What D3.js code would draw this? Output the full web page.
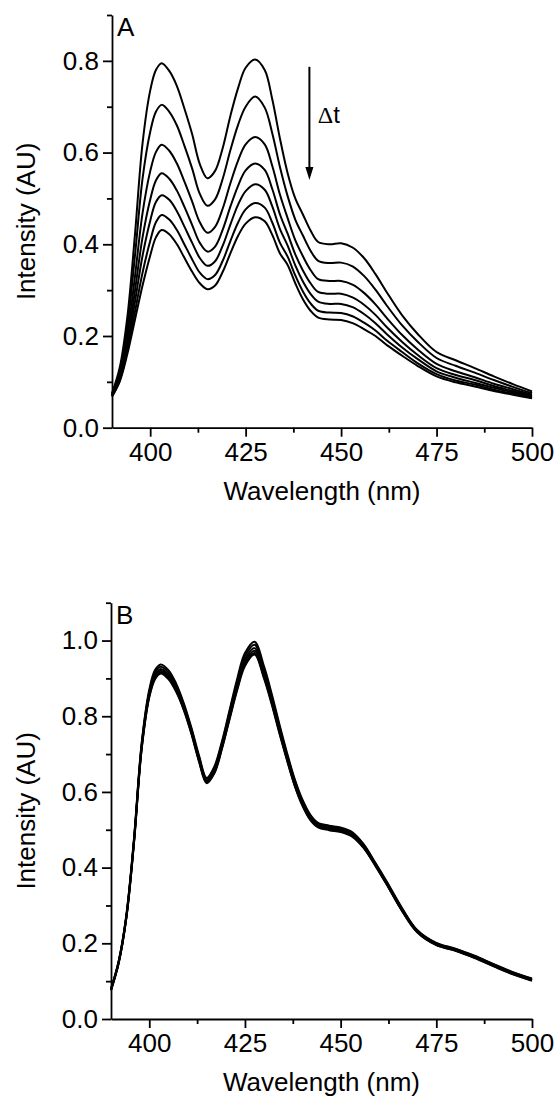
<!DOCTYPE html>
<html>
<head>
<meta charset="utf-8">
<script src="https://cdn.jsdelivr.net/npm/d3@7/dist/d3.min.js"></script>
<style>
body { margin: 0; background: #fff; }
svg text { font-family: "Liberation Sans", Arial, sans-serif; fill: #000; }
</style>
</head>
<body>
<div id="chart"></div>
<script>
// wavelengths (nm) shared by all spectra
var wavelength = [390, 392, 394, 396, 398, 400, 401.5, 403, 405, 407, 409, 411, 413, 415, 417, 419, 421, 423, 425, 427.5,
    430, 432, 434, 436, 438, 440, 442, 444, 447, 450, 453, 456, 459, 462, 466, 470, 475, 480, 485, 490, 495, 500];

// panel A: intensity decays with time (first scan on top)
var specA1 = [.075, .13, .24, .42, .62, .735, .78, .795, .778, .745, .695, .64, .575, .544, .56, .61, .68, .74, .785, .803,
    .78, .715, .63, .555, .50, .465, .43, .405, .40, .402, .393, .37, .335, .295, .245, .205, .165, .147, .13, .112, .095, .079];
var specA2 = [.073, .122, .22, .374, .543, .645, .689, .704, .689, .659, .614, .565, .51, .484, .498, .543, .605, .66, .70, .722,
    .698, .641, .568, .505, .454, .419, .386, .364, .359, .36, .352, .331, .301, .266, .223, .188, .152, .135, .12, .104, .089, .075];
var specA3 = [.072, .115, .201, .329, .468, .559, .601, .617, .604, .576, .536, .493, .448, .425, .438, .478, .533, .582, .618, .634,
    .618, .57, .508, .457, .409, .374, .344, .324, .32, .32, .312, .294, .269, .239, .202, .171, .139, .123, .11, .096, .084, .072];
var specA4 = [.070, .11, .187, .298, .415, .497, .539, .555, .543, .517, .481, .442, .403, .384, .395, .432, .482, .527, .561, .576,
    .562, .52, .465, .423, .378, .343, .315, .296, .292, .292, .284, .268, .246, .219, .187, .159, .13, .115, .104, .091, .08, .069];
var specA5 = [.070, .106, .177, .274, .375, .451, .492, .507, .497, .472, .438, .403, .37, .353, .363, .397, .443, .486, .516, .531,
    .519, .482, .433, .397, .354, .319, .292, .275, .27, .27, .263, .248, .228, .204, .175, .15, .123, .109, .098, .087, .077, .067];
var specA6 = [.068, .103, .167, .252, .338, .407, .448, .464, .454, .431, .399, .367, .338, .324, .333, .364, .407, .447, .476, .49,
    .48, .447, .403, .373, .332, .297, .271, .255, .251, .25, .243, .229, .212, .19, .165, .141, .117, .103, .094, .083, .074, .065];
var specA7 = [.068, .10, .16, .235, .31, .375, .415, .431, .422, .40, .37, .34, .315, .302, .31, .34, .38, .418, .445, .459,
    .45, .42, .38, .355, .315, .28, .255, .24, .236, .235, .228, .215, .20, .18, .157, .135, .112, .099, .09, .08, .072, .064];

// panel B: repeated scans, nearly unchanged
var specB1 = [.080, .153, .274, .476, .728, .870, .922, .937, .922, .887, .835, .770, .696, .637, .667, .734, .817, .900, .967, .997,
    .931, .859, .779, .703, .634, .580, .541, .519, .511, .506, .494, .462, .414, .364, .294, .235, .201, .186, .167, .145, .124, .107];
var specB2 = [.079, .152, .272, .473, .724, .865, .916, .931, .916, .882, .831, .766, .692, .634, .663, .729, .811, .893, .959, .989,
    .923, .852, .773, .698, .630, .576, .538, .516, .508, .503, .491, .460, .412, .362, .292, .234, .200, .185, .166, .144, .123, .106];
var specB3 = [.078, .15, .27, .47, .72, .86, .91, .925, .91, .876, .826, .762, .688, .630, .658, .724, .805, .885, .95, .98,
    .915, .845, .767, .693, .625, .572, .534, .513, .505, .50, .488, .457, .41, .36, .29, .232, .198, .183, .164, .142, .121, .104];
var specB4 = [.077, .149, .268, .468, .717, .856, .905, .920, .905, .872, .822, .759, .685, .627, .654, .720, .800, .879, .943, .973,
    .909, .839, .762, .689, .621, .569, .531, .511, .503, .498, .486, .455, .408, .358, .288, .231, .197, .182, .163, .141, .120, .103];
var specB5 = [.076, .148, .267, .466, .714, .853, .901, .916, .901, .868, .819, .756, .682, .625, .651, .717, .796, .874, .937, .967,
    .903, .835, .758, .686, .618, .566, .529, .509, .501, .496, .484, .453, .407, .357, .287, .230, .196, .181, .162, .140, .119, .102];
var specB6 = [.076, .147, .266, .464, .712, .850, .898, .913, .898, .865, .817, .754, .680, .623, .649, .714, .793, .870, .933, .963,
    .899, .831, .755, .683, .616, .564, .527, .507, .499, .494, .482, .452, .406, .356, .286, .229, .195, .180, .161, .139, .118, .101];

var xTicks = [400, 425, 450, 475, 500];
var xMinor = [412.5, 437.5, 462.5, 487.5];
var yTicksA = [0, 0.2, 0.4, 0.6, 0.8];
var yMinorA = [0.1, 0.3, 0.5, 0.7, 0.9];
var yTicksB = [0, 0.2, 0.4, 0.6, 0.8, 1.0];
var yMinorB = [0.1, 0.3, 0.5, 0.7, 0.9, 1.1];

const svg = d3.select("#chart")
    .append("svg")
    .attr("width", 557)
    .attr("height", 1101);

function drawPanel(opts) {
    const x = d3.scaleLinear().domain([390, 500]).range([opts.left, opts.right]);
    const y = d3.scaleLinear().domain([0, opts.yMax]).range([opts.bottom, opts.top]);

    const g = svg.append("g");

    // minor ticks first
    g.append("g")
        .attr("transform", `translate(0,${opts.bottom})`)
        .call(d3.axisBottom(x).tickValues(xMinor).tickSize(5).tickSizeOuter(0).tickFormat(""))
        .call(a => a.select(".domain").remove());
    g.append("g")
        .attr("transform", `translate(${opts.left},0)`)
        .call(d3.axisLeft(y).tickValues(opts.yMinor).tickSize(5).tickSizeOuter(0).tickFormat(""))
        .call(a => a.select(".domain").remove());

    g.append("g")
        .attr("transform", `translate(0,${opts.bottom})`)
        .call(d3.axisBottom(x).tickValues(xTicks).tickSize(9).tickSizeOuter(0).tickPadding(6));
    g.append("g")
        .attr("transform", `translate(${opts.left},0)`)
        .call(d3.axisLeft(y).tickValues(opts.yTicks).tickSize(9).tickSizeOuter(0).tickPadding(4).tickFormat(d3.format(".1f")));

    g.selectAll(".tick line, .domain").attr("stroke", "#000").attr("stroke-width", 1.8);
    g.selectAll(".tick text").attr("font-size", 26).attr("fill", "#000");

    const line = d3.line()
        .x((d, i) => x(wavelength[i]))
        .y(d => y(d))
        .curve(d3.curveCatmullRom.alpha(0.5));

    g.append("g")
        .selectAll("path")
        .data(opts.series)
        .join("path")
        .attr("d", line)
        .attr("fill", "none")
        .attr("stroke", "#000")
        .attr("stroke-width", 2);

    // axis titles
    g.append("text")
        .attr("x", (opts.left + opts.right) / 2)
        .attr("y", opts.bottom + 72)
        .attr("text-anchor", "middle")
        .attr("font-size", 26)
        .text("Wavelength (nm)");

    g.append("text")
        .attr("transform", `translate(35,${(opts.top + opts.bottom) / 2}) rotate(-90)`)
        .attr("text-anchor", "middle")
        .attr("font-size", 26)
        .text("Intensity (AU)");

    g.append("text")
        .attr("x", opts.left + 5)
        .attr("y", opts.top + 21)
        .attr("font-size", 26)
        .text(opts.label);

    return { x: x, y: y, g: g };
}

const panelA = drawPanel({
    top: 15, bottom: 427.7, left: 112, right: 532, yMax: 0.9,
    yTicks: yTicksA, yMinor: yMinorA, label: "A",
    series: [specA1, specA2, specA3, specA4, specA5, specA6, specA7]
});

drawPanel({
    top: 602.7, bottom: 1019, left: 111, right: 532, yMax: 1.1,
    yTicks: yTicksB, yMinor: yMinorB, label: "B",
    series: [specB1, specB2, specB3, specB4, specB5, specB6]
});

// time arrow in panel A
const arrowX = panelA.x(441.7);
const arrowTop = panelA.y(0.787);
const arrowTip = panelA.y(0.540);
panelA.g.append("line")
    .attr("x1", arrowX).attr("x2", arrowX)
    .attr("y1", arrowTop).attr("y2", arrowTip - 10)
    .attr("stroke", "#000").attr("stroke-width", 2);
panelA.g.append("path")
    .attr("d", `M${arrowX - 4},${arrowTip - 13}L${arrowX + 4},${arrowTip - 13}L${arrowX},${arrowTip}Z`)
    .attr("fill", "#000");

const dt = panelA.g.append("text")
    .attr("x", panelA.x(443.9))
    .attr("y", panelA.y(0.664))
    .attr("font-size", 24);
dt.append("tspan").attr("font-family", "Liberation Serif, serif").text("Δ");
dt.append("tspan").attr("font-family", "Liberation Sans Narrow, Liberation Sans, sans-serif").text("t");
</script>
</body>
</html>
